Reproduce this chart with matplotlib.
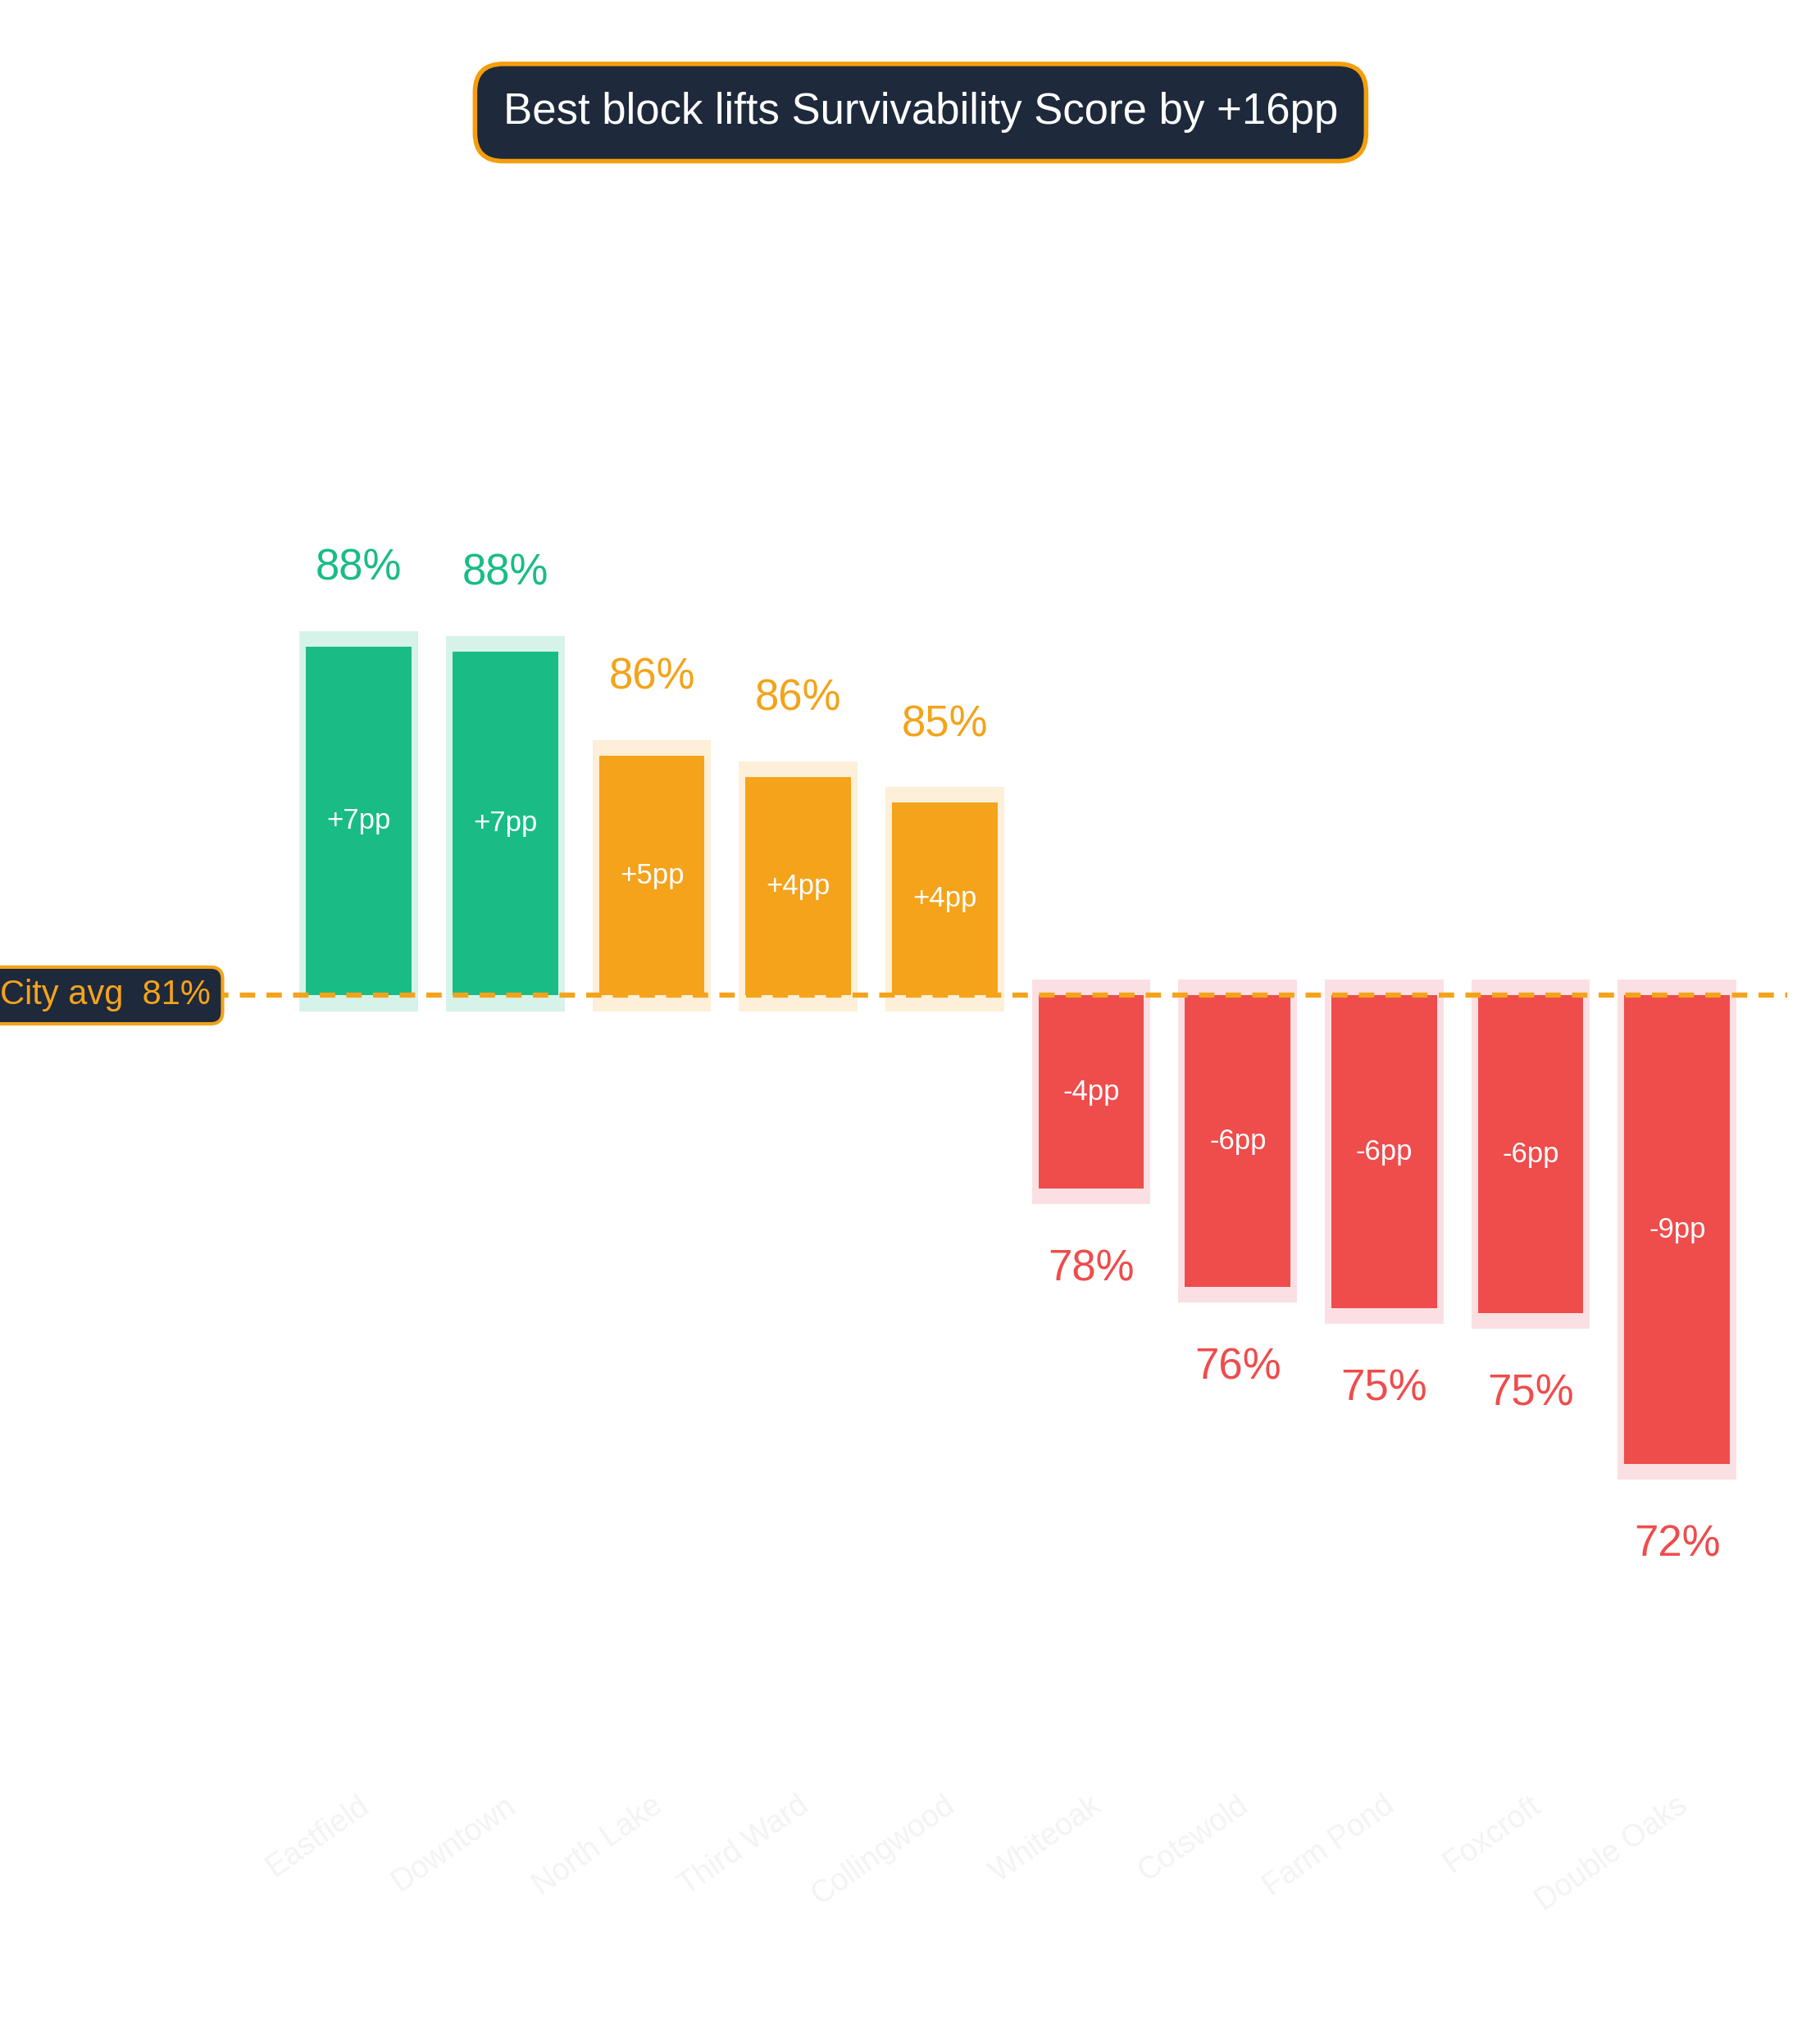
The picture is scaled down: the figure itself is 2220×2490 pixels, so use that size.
import matplotlib
matplotlib.use("Agg")
import matplotlib.pyplot as plt

categories = ["Eastfield", "Downtown", "North Lake", "Third Ward", "Collingwood",
              "Whiteoak", "Cotswold", "Farm Pond", "Foxcroft", "Double Oaks"]
values = [88.1, 88.0, 86.0, 85.6, 85.1, 77.7, 75.8, 75.4, 75.3, 72.4]
city_avg = 81.4
title = "Best block lifts Survivability Score by +16pp"

GREEN, ORANGE, RED = "#1abc85", "#f4a31a", "#ef4c4c"
HALO = {GREEN: "#d6f3ea", ORANGE: "#fdefd8", RED: "#fbe0e3"}
DARK = "#1e293b"

plt.rcParams['font.family'] = ['Liberation Sans', 'DejaVu Sans']
fig = plt.figure(figsize=(22.2, 24.9), dpi=100)
H = 1560.0
ax = fig.add_axes([0, 1 - 1340 / H, 1355 / 1380, (1340 - 130) / H])
ax.set_xlim(-2.45, 9.75)
ax.set_ylim(66.85, 97.25)
ax.axis("off")

for i, (c, v) in enumerate(zip(categories, values)):
    d = v - city_avg
    col = GREEN if d >= 6 else (ORANGE if d > 0 else RED)
    pad = 0.3
    if d > 0:
        ax.bar(i, d + 2 * pad, bottom=city_avg - pad, width=0.81, color=HALO[col], zorder=1)
    else:
        ax.bar(i, d - 2 * pad, bottom=city_avg + pad, width=0.81, color=HALO[col], zorder=1)
    ax.bar(i, d, bottom=city_avg, width=0.72, color=col, zorder=2)
    ax.text(i, city_avg + d / 2, f"{d:+.0f}pp", ha="center", va="center",
            color="white", fontsize=25, zorder=4)
    if d > 0:
        ax.text(i, v + 1.5, f"{v:.0f}%", ha="center", va="center", color=col, fontsize=38)
    else:
        ax.text(i, v - 1.55, f"{v:.0f}%", ha="center", va="center", color=col, fontsize=38)
    ax.text(i + 0.05, 65.9, c, rotation=35, ha="right", va="center", color="#f3f3f3",
            fontsize=27, clip_on=False, rotation_mode="anchor")

ax.axhline(city_avg, color=ORANGE, lw=4.5, ls=(0, (3, 2.2)), zorder=3)
ax.text(-2.45, city_avg, "City avg  81%", ha="left", va="center", color=ORANGE, fontsize=30,
        zorder=5, bbox=dict(boxstyle="round,pad=0.35", fc=DARK, ec=ORANGE, lw=3))

fig.text(698 / 1380, 1 - 86 / H, title, ha="center", va="center", color="white", fontsize=38,
         bbox=dict(boxstyle="round,pad=0.65", fc=DARK, ec="#f59e0b", lw=4))

fig.savefig("out.png", dpi=100, facecolor="white")
